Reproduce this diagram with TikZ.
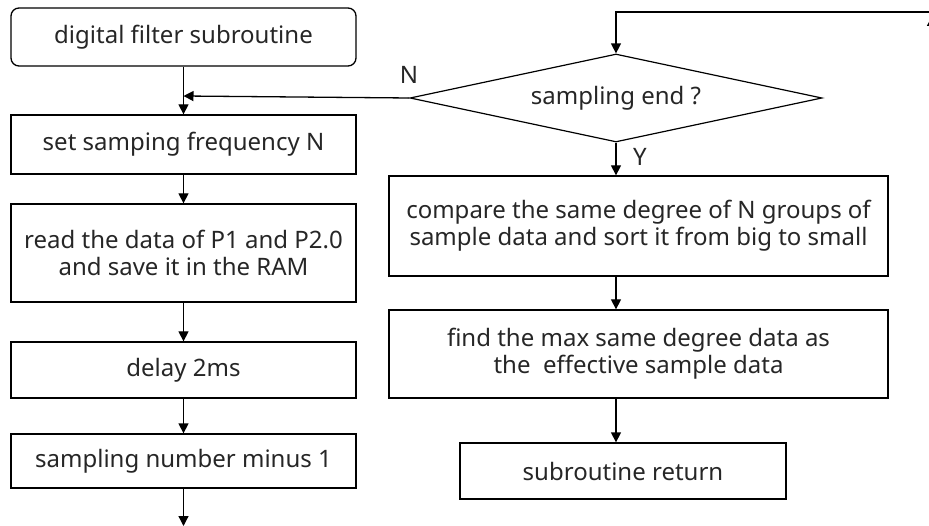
\documentclass[tikz,border=0pt]{standalone}
\usepackage{fontspec}
\setmainfont{Noto Sans}
\usetikzlibrary{arrows.meta,shapes.geometric}
\begin{document}
\begin{tikzpicture}[x=1pt,y=-1pt,
  every node/.style={font=\fontsize{24}{27}\selectfont, text=black!85},
  box/.style={draw, line width=1.3pt, inner sep=0pt, align=center},
  startbox/.style={box, rounded corners=8pt},
  decision/.style={draw, diamond, aspect=4.68, line width=1.2pt, inner sep=0pt},
  arr/.style={-{Triangle[length=10pt,width=10pt]}, line width=1.3pt},
  lbl/.style={inner sep=0pt}]
\useasboundingbox (0,0) rectangle (929,526);
% left column
\node[startbox, minimum width=345pt, minimum height=58pt] (start) at (183.5,37) {digital filter subroutine};
\node[box, minimum width=345pt, minimum height=59pt] (setf) at (183.5,144.5) {set samping frequency N};
\node[box, minimum width=345pt, minimum height=98pt] (read) at (183.5,253) {read the data of P1 and P2.0\\and save it in the RAM};
\node[box, minimum width=345pt, minimum height=56pt] (delay) at (183.5,370) {delay 2ms};
\node[box, minimum width=345pt, minimum height=54pt] (snum) at (183.5,461) {sampling number minus 1};
\coordinate (bot) at (183.5,526);
\coordinate (merge) at (183.5,96);
% right column
\node[decision, minimum width=412pt, minimum height=88pt] (dia) at (616,98) {sampling end ?};
\node[box, minimum width=499pt, minimum height=100pt] (comp) at (638.5,226) {compare the same degree of N groups of\\sample data and sort it from big to small};
\node[box, minimum width=499pt, minimum height=88pt] (find) at (638.5,354) {find the max same degree data as\\the\ \ effective sample data};
\node[box, minimum width=326pt, minimum height=56pt] (ret) at (623,471) {subroutine return};
\coordinate (rc) at (929,12);
\coordinate (tipb) at (932,36);
\coordinate (tipt) at (932,16);
% labels
\node[lbl] (nl) at (409,75) {N};
\node[lbl] (yl) at (640,157) {Y};
% connectors
\draw[arr] (start.south) -- (setf.north);
\draw[arr] (dia.west) -- (merge);
\draw[arr] (setf) -- (read);
\draw[arr] (read) -- (delay);
\draw[arr] (delay) -- (snum);
\draw[arr] (snum.south) -- (bot);
\draw[arr] (rc) -| (dia.north);
\draw[arr] (tipb) -- (tipt);
\draw[arr] (dia.south) -- (dia.south |- comp.north);
\draw[arr] (dia.south |- comp.south) -- (dia.south |- find.north);
\draw[arr] (dia.south |- find.south) -- (dia.south |- ret.north);
\end{tikzpicture}
\end{document}
